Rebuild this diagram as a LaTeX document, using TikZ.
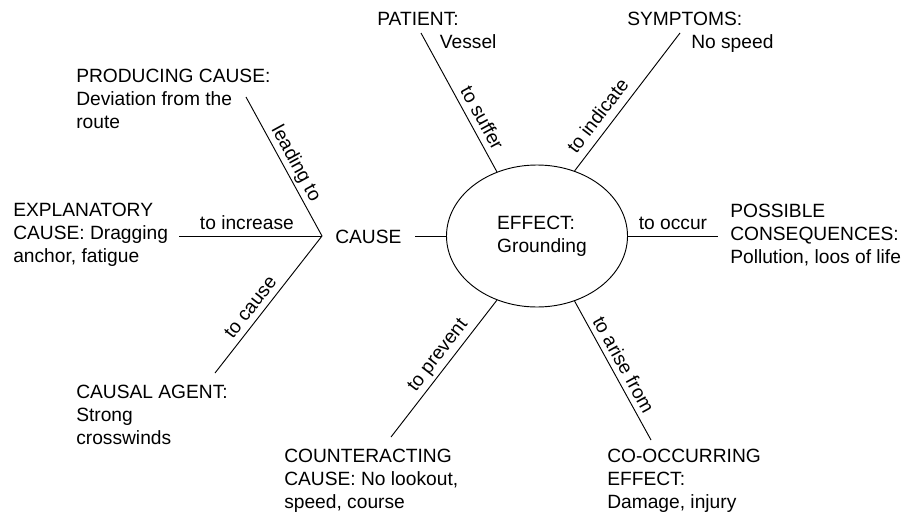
\documentclass[tikz,border=0pt]{standalone}
\usepackage{fontspec}
\setmainfont{Liberation Sans}
\usetikzlibrary{shapes.geometric}
\begin{document}
\begin{tikzpicture}[x=0.75pt,y=-0.75pt,
  every node/.style={font=\fontsize{14.4}{17.25}\selectfont},
  txt/.style={anchor=north west, inner sep=0pt, align=left},
  lbl/.style={sloped, above, inner sep=4.5pt, text depth=0pt},
  ln/.style={draw=black, line width=0.7pt}]
\useasboundingbox (0,0) rectangle (902,514);

% centre
\node[ellipse, draw, line width=0.7pt, minimum width=135.75pt, minimum height=106.5pt,
      inner sep=0pt, align=left] (eff) at (537,236) {\hspace*{7.5pt}EFFECT:\\\hspace*{7.5pt}Grounding};
\node[anchor=base west, inner sep=0pt] (cause) at (335,243) {CAUSE};

% text nodes
\node[txt] (prod) at (76,69) {PRODUCING CAUSE:\\Deviation from the\\route};
\node[txt] (expl) at (13,203) {EXPLANATORY\\CAUSE: Dragging\\anchor, fatigue};
\node[txt] (causal) at (76,385) {CAUSAL AGENT:\\Strong\\crosswinds};
\node[txt] (counter) at (284,449) {COUNTERACTING\\CAUSE: No lookout,\\speed, course};
\node[txt] (cooc) at (607,449) {CO-OCCURRING\\EFFECT:\\Damage, injury};
\node[txt] (poss) at (730,204) {POSSIBLE\\CONSEQUENCES:\\Pollution, loos of life};
\node[txt] (pat) at (377,12) {PATIENT:\\\hspace*{47pt}Vessel};
\node[txt] (sym) at (627,12) {SYMPTOMS:\\\hspace*{48pt}No speed};

% connector ends
\coordinate (cv) at (322,236);
\coordinate (prodE) at (246,97);
\coordinate (explE) at (179,236);
\coordinate (causalE) at (215,373);
\coordinate (causeR) at (415,236);
\coordinate (patE) at (421,33);
\coordinate (symE) at (680,33);
\coordinate (possE) at (718,236);
\coordinate (countE) at (391,437);
\coordinate (coocE) at (651,440);

% connectors
\draw[ln] (prodE) -- node[lbl, pos=0.52] {leading to} (cv);
\draw[ln] (explE) -- node[lbl, pos=0.475] {to increase} (cv);
\draw[ln] (causalE) -- node[lbl, pos=0.423] {to cause} (cv);
\draw[ln] (causeR) -- (eff.180);
\draw[ln] (patE) -- node[lbl, pos=0.656] {to suffer} (eff.122);
\draw[ln] (eff.60.4) -- node[lbl, pos=0.333, inner sep=6pt] {to indicate} (symE);
\draw[ln] (eff.0) -- node[lbl, pos=0.5] {to occur} (possE);
\draw[ln] (countE) -- node[lbl, pos=0.539, inner sep=5.5pt] {to prevent} (eff.238);
\draw[ln] (eff.-60) -- node[lbl, pos=0.5, inner sep=4pt] {to arise from} (coocE);
\end{tikzpicture}
\end{document}
